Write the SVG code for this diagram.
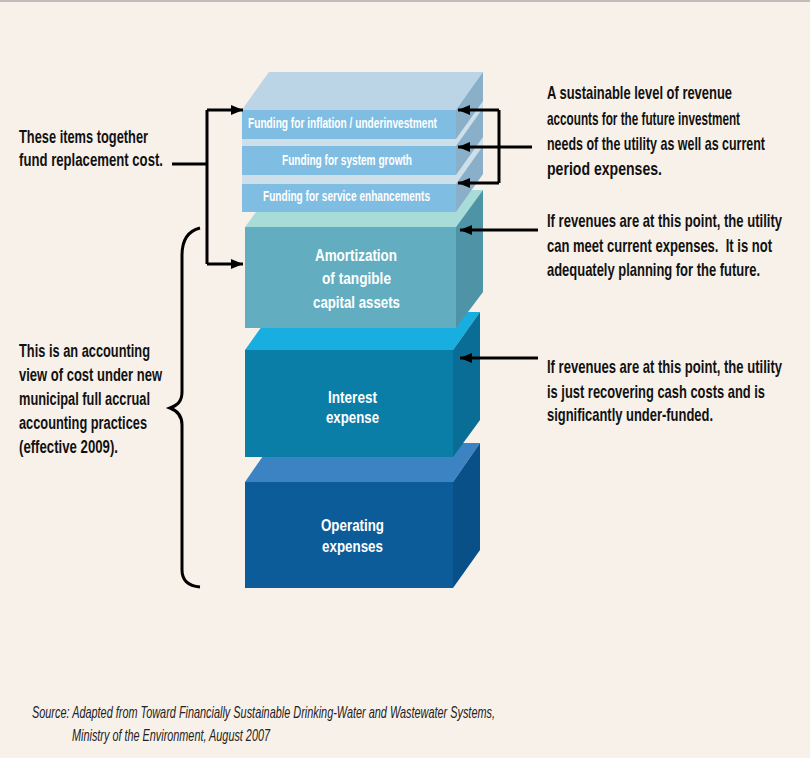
<svg xmlns="http://www.w3.org/2000/svg" width="810" height="758" viewBox="0 0 810 758">
<defs>
<marker id="ah" markerUnits="userSpaceOnUse" markerWidth="12" markerHeight="10" refX="12" refY="5" orient="auto">
<path d="M0,0 L12,5 L0,10 z" fill="#000"/>
</marker>
</defs>
<style>
.lbl{font-family:"Liberation Sans",Arial,sans-serif;font-weight:bold;font-size:18px;fill:#111}
.in{font-family:"Liberation Sans",Arial,sans-serif;font-weight:bold;fill:#fff}
.slab{font-size:14px}
.blk{font-size:17px}
.src{font-family:"Liberation Sans",Arial,sans-serif;font-style:italic;font-size:17px;fill:#222}
.ln{stroke:#000;stroke-width:3;fill:none}
.arr{stroke:#000;stroke-width:3;fill:none;marker-end:url(#ah)}
.brace{stroke:#000;stroke-width:3;fill:none}
</style>
<rect x="0" y="0" width="810" height="758" fill="#f8f1ea"/>
<rect x="0" y="0" width="810" height="2" fill="#c4bcbc"/>

<g id="operating">
<polygon points="245,482 272,443 480,443 453,482" fill="#3b83c3"/>
<polygon points="453,482 480,443 480,550 453,588" fill="#0a5088"/>
<rect x="245" y="482" width="208" height="106" fill="#0b5c98"/>
<text class="in blk" x="321" y="531" textLength="63" lengthAdjust="spacingAndGlyphs">Operating</text>
<text class="in blk" x="322" y="552" textLength="61" lengthAdjust="spacingAndGlyphs">expenses</text>
</g>

<g id="interest">
<polygon points="245,350 272,312 480,312 453,350" fill="#18afe0"/>
<polygon points="453,350 480,312 480,420 453,457" fill="#0a6d95"/>
<rect x="245" y="350" width="208" height="107" fill="#0b7ea8"/>
<text class="in blk" x="328" y="403" textLength="49" lengthAdjust="spacingAndGlyphs">Interest</text>
<text class="in blk" x="326" y="423" textLength="53" lengthAdjust="spacingAndGlyphs">expense</text>
</g>

<g id="amortization">
<polygon points="245,227 272,190 483,190 456,227" fill="#a8dcd9"/>
<polygon points="456,227 483,190 483,292 456,328" fill="#4e94a6"/>
<rect x="245" y="227" width="211" height="101" fill="#62aec0"/>
<text class="in blk" x="315" y="261" textLength="82" lengthAdjust="spacingAndGlyphs">Amortization</text>
<text class="in blk" x="322" y="284" textLength="69" lengthAdjust="spacingAndGlyphs">of tangible</text>
<text class="in blk" x="313" y="308" textLength="87" lengthAdjust="spacingAndGlyphs">capital assets</text>
</g>

<polygon points="242,212 242,110 269,72 483,72 483,174 456,212" fill="#cde0ea"/>

<g id="slab3">
<polygon points="242,184 269,146 483,146 456,184" fill="#cde0ea"/>
<polygon points="456,184 483,146 483,174 456,212" fill="#8aafc9"/>
<rect x="242" y="184" width="214" height="28" fill="#80bde2"/>
<text class="in slab" x="263" y="201" textLength="167" lengthAdjust="spacingAndGlyphs">Funding for service enhancements</text>
</g>

<g id="slab2">
<polygon points="242,146 269,108 483,108 456,146" fill="#cde0ea"/>
<polygon points="456,146 483,108 483,137 456,175" fill="#8aafc9"/>
<rect x="242" y="146" width="214" height="29" fill="#80bde2"/>
<text class="in slab" x="282" y="165" textLength="130" lengthAdjust="spacingAndGlyphs">Funding for system growth</text>
</g>

<g id="slab1">
<polygon points="242,110 269,72 483,72 456,110" fill="#bcd5e6"/>
<polygon points="456,110 483,72 483,101 456,139" fill="#8aafc9"/>
<rect x="242" y="110" width="214" height="29" fill="#80bde2"/>
<text class="in slab" x="248" y="128" textLength="189" lengthAdjust="spacingAndGlyphs">Funding for inflation / underinvestment</text>
</g>

<g id="connectors">
<path class="ln" d="M172,164 H207 M207,110 V264"/>
<path class="arr" d="M207,110 H243"/>
<path class="arr" d="M207,264 H243"/>
<path class="ln" d="M499,110 V183"/>
<path class="arr" d="M499,110 H458"/>
<path class="arr" d="M532,147 H458"/>
<path class="arr" d="M499,183 H458"/>
<path class="arr" d="M538,230 H460"/>
<path class="arr" d="M538,358 H460"/>
<path class="brace" d="M200,228 C188,231 182,240 182,255 L182,392 C182,401 178,405 170,408 C178,411 182,416 182,425 L182,570 C182,581 189,586 200,587"/>
</g>

<g id="label-replacement">
<text class="lbl" x="19" y="143" textLength="129" lengthAdjust="spacingAndGlyphs">These items together</text>
<text class="lbl" x="19" y="166" textLength="144" lengthAdjust="spacingAndGlyphs">fund replacement cost.</text>
</g>

<g id="label-accounting">
<text class="lbl" x="19" y="357" textLength="131" lengthAdjust="spacingAndGlyphs">This is an accounting</text>
<text class="lbl" x="19" y="381" textLength="143" lengthAdjust="spacingAndGlyphs">view of cost under new</text>
<text class="lbl" x="19" y="405" textLength="131" lengthAdjust="spacingAndGlyphs">municipal full accrual</text>
<text class="lbl" x="19" y="429" textLength="128" lengthAdjust="spacingAndGlyphs">accounting practices</text>
<text class="lbl" x="19" y="453" textLength="99" lengthAdjust="spacingAndGlyphs">(effective 2009).</text>
</g>

<g id="label-sustainable" transform="scale(0.8 1)">
<text class="lbl" x="683.75" y="99" textLength="231.25" lengthAdjust="spacingAndGlyphs">A sustainable level of revenue</text>
<text class="lbl" x="683.75" y="125" textLength="241.25" lengthAdjust="spacingAndGlyphs">accounts for the future investment</text>
<text class="lbl" x="683.75" y="150" textLength="272.5" lengthAdjust="spacingAndGlyphs">needs of the utility as well as current</text>
<text class="lbl" x="683.75" y="175" textLength="143.75" lengthAdjust="spacingAndGlyphs">period expenses.</text>
</g>

<g id="label-current" transform="scale(0.8 1)">
<text class="lbl" x="683.75" y="227" textLength="293.75" lengthAdjust="spacingAndGlyphs">If revenues are at this point, the utility</text>
<text class="lbl" x="683.75" y="252" textLength="281.25" lengthAdjust="spacingAndGlyphs" xml:space="preserve">can meet current expenses.  It is not</text>
<text class="lbl" x="683.75" y="276" textLength="266.25" lengthAdjust="spacingAndGlyphs">adequately planning for the future.</text>
</g>

<g id="label-cash" transform="scale(0.8 1)">
<text class="lbl" x="683.75" y="373" textLength="293.75" lengthAdjust="spacingAndGlyphs">If revenues are at this point, the utility</text>
<text class="lbl" x="683.75" y="398" textLength="272.5" lengthAdjust="spacingAndGlyphs">is just recovering cash costs and is</text>
<text class="lbl" x="683.75" y="421" textLength="207.5" lengthAdjust="spacingAndGlyphs">significantly under-funded.</text>
</g>

<g id="source">
<text class="src" x="32" y="718" textLength="463" lengthAdjust="spacingAndGlyphs">Source: Adapted from Toward Financially Sustainable Drinking-Water and Wastewater Systems,</text>
<text class="src" x="72" y="741" textLength="198" lengthAdjust="spacingAndGlyphs">Ministry of the Environment, August 2007</text>
</g>
</svg>
